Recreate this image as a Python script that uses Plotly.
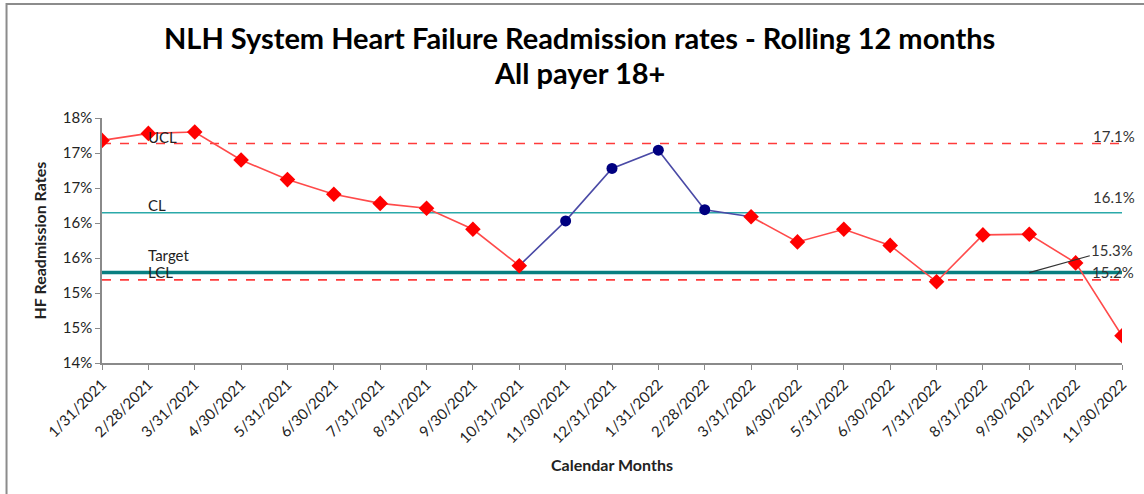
import plotly.graph_objects as go

# Rolling 12-month HF readmission rates (%)
months = ["1/31/2021", "2/28/2021", "3/31/2021", "4/30/2021", "5/31/2021", "6/30/2021",
          "7/31/2021", "8/31/2021", "9/30/2021", "10/31/2021", "11/30/2021", "12/31/2021",
          "1/31/2022", "2/28/2022", "3/31/2022", "4/30/2022", "5/31/2022", "6/30/2022",
          "7/31/2022", "8/31/2022", "9/30/2022", "10/31/2022", "11/30/2022"]
rates = [17.18, 17.28, 17.30, 16.90, 16.62, 16.41, 16.28, 16.21, 15.91, 15.39, 16.03, 16.78,
         17.04, 16.19, 16.09, 15.73, 15.91, 15.68, 15.16, 15.83, 15.84, 15.43, 14.39]
# points flagged as a run (blue)
flagged = [False] * 10 + [True] * 4 + [False] * 9

ucl = 17.135
cl = 16.147
target = 15.292
lcl = 15.188

y_tickvals = [14.0, 14.5, 15.0, 15.5, 16.0, 16.5, 17.0, 17.5]
y_ticktext = ["14%", "15%", "15%", "16%", "16%", "17%", "17%", "18%"]

FONT = "Lato"
idx = list(range(len(months)))
last = idx[-1]

fig = go.Figure()

# control lines
for val, col, w, dash in [(ucl, "#FF3B3B", 1.6, "dash"), (cl, "#2BA9A9", 1.6, "solid"),
                          (target, "#0A7F80", 3.5, "solid"), (lcl, "#FF3B3B", 1.6, "dash")]:
    fig.add_trace(go.Scatter(x=[0, last], y=[val, val], mode="lines",
                             line=dict(color=col, width=w, dash=dash),
                             hoverinfo="skip", showlegend=False))

# blue run segment: line from the point before to the point after, markers on flagged only
first_f = flagged.index(True)
last_f = len(flagged) - 1 - flagged[::-1].index(True)
seg = list(range(first_f - 1, last_f + 2))
fig.add_trace(go.Scatter(x=seg, y=[rates[i] for i in seg], mode="lines",
                         line=dict(color="#4A4AA6", width=1.6), showlegend=False))
fig.add_trace(go.Scatter(x=[i for i in idx if flagged[i]],
                         y=[rates[i] for i in idx if flagged[i]], mode="markers",
                         marker=dict(symbol="circle", size=11, color="#000080"),
                         showlegend=False))

# red series (gap where flagged)
red_y = [None if flagged[i] else rates[i] for i in idx]
fig.add_trace(go.Scatter(x=idx, y=red_y, mode="lines+markers",
                         line=dict(color="#FF4A4A", width=1.6),
                         marker=dict(symbol="diamond", size=12, color="#FF0000"),
                         connectgaps=False, showlegend=False))

ann = []
# left line labels
for txt, val, ys in [("UCL", ucl, 7), ("CL", cl, 8), ("Target", target, 18), ("LCL", lcl, 8)]:
    ann.append(dict(x=0, y=val, xref="x", yref="y", text=txt, showarrow=False,
                    xanchor="left", yanchor="middle", xshift=44, yshift=ys,
                    font=dict(family=FONT, size=15, color="#222")))
# right value labels
ann.append(dict(x=last, y=ucl, text=f"{ucl:.1f}%", showarrow=False, xanchor="right",
                xshift=15, yshift=8, font=dict(family=FONT, size=15, color="#333")))
ann.append(dict(x=last, y=cl, text=f"{cl:.1f}%", showarrow=False, xanchor="right",
                xshift=15, yshift=16, font=dict(family=FONT, size=15, color="#333")))
ann.append(dict(x=20, y=target, text=f"{target:.1f}%", showarrow=True, arrowhead=0,
                arrowwidth=1.2, arrowcolor="#333", ax=83, ay=-23, standoff=0,
                font=dict(family=FONT, size=15, color="#333")))
ann.append(dict(x=last, y=lcl, text=f"{lcl:.1f}%", showarrow=False, xanchor="right",
                xshift=14, yshift=8, font=dict(family=FONT, size=15, color="#333")))
# titles
ann.append(dict(x=0.4686, y=1.327, xref="paper", yref="paper", showarrow=False,
                text="<b>NLH System Heart Failure Readmission rates - Rolling 12 months</b>",
                font=dict(family=FONT, size=29, color="#000"), yanchor="middle"))
ann.append(dict(x=0.4686, y=1.184, xref="paper", yref="paper", showarrow=False,
                text="<b>All payer 18+</b>",
                font=dict(family=FONT, size=29, color="#000"), yanchor="middle"))
ann.append(dict(x=0.5, y=-0.416, xref="paper", yref="paper", showarrow=False,
                text="<b>Calendar Months</b>",
                font=dict(family=FONT, size=16, color="#222"), yanchor="middle"))
ann.append(dict(x=-0.0608, y=0.5, xref="paper", yref="paper", showarrow=False,
                text="<b>HF Readmission Rates</b>", textangle=-90,
                font=dict(family=FONT, size=16, color="#222"), xanchor="center"))

fig.update_layout(
    width=1144, height=494,
    margin=dict(l=102, r=22, t=118, b=131),
    paper_bgcolor="white", plot_bgcolor="white",
    annotations=ann,
    xaxis=dict(range=[0, last], tickmode="array", tickvals=idx, ticktext=months,
               tickangle=-45, ticks="outside", ticklen=5, tickcolor="#8a8a8a",
               showline=True, linecolor="#8a8a8a", linewidth=1.5, showgrid=False,
               zeroline=False, automargin=False,
               tickfont=dict(family=FONT, size=15, color="#222")),
    yaxis=dict(range=[14.0, 17.5], tickmode="array", tickvals=y_tickvals,
               ticktext=y_ticktext, ticks="outside", ticklen=5, tickcolor="#8a8a8a",
               showline=True, linecolor="#8a8a8a", linewidth=1.5, showgrid=False,
               zeroline=False, automargin=False,
               tickfont=dict(family=FONT, size=15, color="#222")),
    shapes=[dict(type="path", xref="paper", yref="paper",
                 path="M -0.0936,-1 L -0.0936,1.465 L 1.2,1.465",
                 line=dict(color="#8c8c8c", width=2))],
)

# drop the page's default body margin so the figure sits at the window origin
fig.write_html("out.html", config={"displayModeBar": False},
               post_script="document.body.style.margin='0';")
